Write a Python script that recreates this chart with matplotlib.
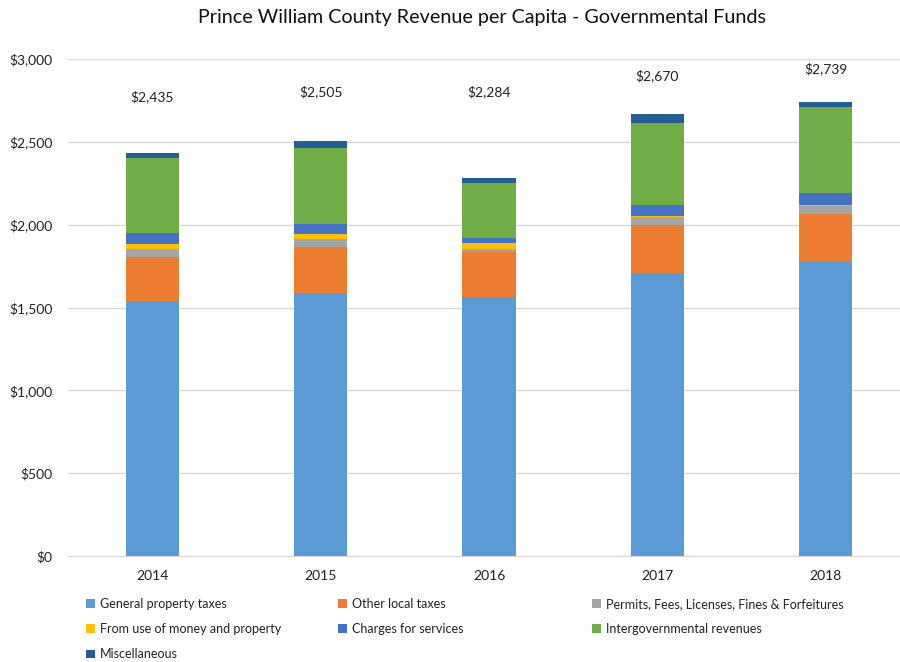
import matplotlib
matplotlib.use("Agg")
import matplotlib.pyplot as plt
from matplotlib.patches import Patch
import numpy as np

years = ["2014", "2015", "2016", "2017", "2018"]
general_property = [1538, 1590, 1562, 1709, 1777]
other_local = [267, 277, 279, 287, 285]
permits_fees = [46, 44, 14, 50, 48]
use_of_money = [35, 31, 32, 5, 10]
charges_services = [64, 62, 31, 67, 69]
intergovernmental = [454, 456, 333, 496, 522]
miscellaneous = [31, 45, 33, 56, 28]
totals = [2435, 2505, 2284, 2670, 2739]
total_label_y = [2771, 2801, 2801, 2898, 2940]

series = [
    ("General property taxes", general_property, "#5B9BD5"),
    ("Other local taxes", other_local, "#ED7D31"),
    ("Permits, Fees, Licenses, Fines & Forfeitures", permits_fees, "#A5A5A5"),
    ("From use of money and property", use_of_money, "#FFC000"),
    ("Charges for services", charges_services, "#4472C4"),
    ("Intergovernmental revenues", intergovernmental, "#70AD47"),
    ("Miscellaneous", miscellaneous, "#255E91"),
]

plt.rcParams['font.family'] = ['Lato', 'DejaVu Sans']
W, H = 900, 662
fig = plt.figure(figsize=(W / 100, H / 100), dpi=100)
ax = fig.add_axes([68 / W, (H - 556) / H, 842 / W, 497 / H])

x = np.arange(len(years))
bottom = np.zeros(len(years))
handles = {}
for name, vals, col in series:
    ax.bar(x, vals, bottom=bottom, width=0.315, color=col, edgecolor='none', zorder=3)
    bottom += np.array(vals)
    handles[name] = Patch(facecolor=col, edgecolor='none')

for xi, t, ly in zip(x, totals, total_label_y):
    ax.text(xi, ly, f"${t:,}", ha='center', va='center', fontsize=10, color='#222222')

ax.set_xlim(-0.5, len(years) - 0.5)
ax.set_ylim(0, 3000)
ax.set_yticks(np.arange(0, 3001, 500))
ax.set_yticklabels([f"${v:,}" for v in range(0, 3001, 500)])
ax.set_xticks(x)
ax.set_xticklabels(years)
ax.tick_params(axis='both', length=0, labelsize=10, colors='#222222')
ax.tick_params(axis='y', pad=11)
ax.tick_params(axis='x', pad=10)
ax.grid(axis='y', color='#D9D9D9', linewidth=1, zorder=0)
for s in ['top', 'right', 'left']:
    ax.spines[s].set_visible(False)
ax.spines['bottom'].set_color('#D9D9D9')
ax.set_axisbelow(True)

fig.text(482 / W, 1 - 18 / H, "Prince William County Revenue per Capita - Governmental Funds",
         ha='center', va='center', fontsize=14.2, color='#111111')

cols = [
    (["General property taxes", "From use of money and property", "Miscellaneous"], 86),
    (["Other local taxes", "Charges for services"], 338),
    (["Permits, Fees, Licenses, Fines & Forfeitures", "Intergovernmental revenues"], 592),
]
for names, xpos in cols:
    leg = fig.legend([handles[n] for n in names], names, loc='upper left',
                     bbox_to_anchor=(xpos / W, 1 - 598 / H), frameon=False,
                     fontsize=9, handlelength=0.7, handleheight=0.7, handletextpad=0.4,
                     labelspacing=1.05, borderaxespad=0, borderpad=0)
    for t in leg.get_texts():
        t.set_color('#222222')

fig.savefig("out.png", dpi=100)
